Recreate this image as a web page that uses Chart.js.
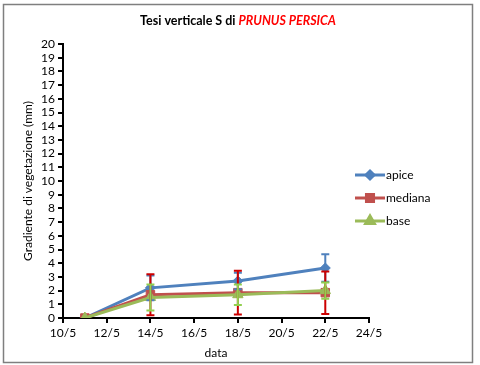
<!DOCTYPE html>
<html>
<head>
<meta charset="utf-8">
<script src="https://cdn.jsdelivr.net/npm/chart.js@4"></script>
<style>
  html, body { margin: 0; padding: 0; background: #fff; }
  #wrap { position: relative; width: 480px; height: 365px; }
</style>
</head>
<body>
<div id="wrap"><canvas id="chart" width="480" height="365"></canvas></div>
<script>
// dati
const days = [11, 14, 18, 22];
const xTicks = [10, 12, 14, 16, 18, 20, 22, 24];
const seriesNames = ["apice", "mediana", "base"];
const apice = [0, 2.2, 2.7, 3.65];
const apiceErr = [0, 0.9, 0.6, 1.0];
const mediana = [0, 1.7, 1.85, 1.85];
const medianaErr = [0, 1.5, 1.6, 1.55];
const base = [0, 1.5, 1.7, 2.0];
const baseErr = [0, 0.95, 0.75, 0.6];

const FONT = "Lato, 'Open Sans', sans-serif";
const colors = ["#4F81BD", "#C0504D", "#9BBB59"];
const errColors = ["#4F81BD", "#CC0000", "#92D050"];
const styles = ["rectRot", "rect", "triangle"];
const radii = [5, 6, 6];

function toPoints(vals) {
  return vals.map((v, i) => ({ x: days[i], y: v }));
}

const values = [apice, mediana, base];
const errors = [apiceErr, medianaErr, baseErr];

// barre di errore
const errorBars = {
  id: "errorBars",
  afterDatasetsDraw(chart) {
    const ctx = chart.ctx;
    const xs = chart.scales.x, ys = chart.scales.y;
    ctx.save();
    values.forEach((vals, s) => {
      ctx.strokeStyle = errColors[s];
      ctx.lineWidth = 2;
      vals.forEach((v, i) => {
        const e = errors[s][i];
        if (!e) return;
        const px = xs.getPixelForValue(days[i]);
        const top = ys.getPixelForValue(v + e);
        const bot = ys.getPixelForValue(Math.max(0, v - e));
        ctx.beginPath();
        ctx.moveTo(px, top); ctx.lineTo(px, bot);
        ctx.moveTo(px - 4, top); ctx.lineTo(px + 4, top);
        ctx.moveTo(px - 4, bot); ctx.lineTo(px + 4, bot);
        ctx.stroke();
      });
    });
    ctx.restore();
  }
};

// titolo, legenda e cornice
const extras = {
  id: "extras",
  afterDraw(chart) {
    const ctx = chart.ctx;
    ctx.save();
    ctx.strokeStyle = "#7f7f7f";
    ctx.lineWidth = 1.5;
    ctx.strokeRect(3.5, 4.5, 469, 358);

    ctx.textBaseline = "middle";
    const t1 = "Tesi verticale S di ";
    const t2 = "PRUNUS PERSICA";
    ctx.font = "bold 12.5px " + FONT;
    const w1 = ctx.measureText(t1).width;
    ctx.font = "bold italic 12.5px " + FONT;
    const w2 = ctx.measureText(t2).width;
    let x0 = 238 - (w1 + w2) / 2;
    ctx.font = "bold 12.5px " + FONT;
    ctx.fillStyle = "#000";
    ctx.textAlign = "left";
    ctx.fillText(t1, x0, 21);
    ctx.font = "bold italic 12.5px " + FONT;
    ctx.fillStyle = "#FF0000";
    ctx.fillText(t2, x0 + w1, 21);

    const ly = [175, 198, 221];
    const lr = [4, 5, 5];
    seriesNames.forEach((name, s) => {
      ctx.strokeStyle = colors[s];
      ctx.lineWidth = 3;
      ctx.beginPath();
      ctx.moveTo(355, ly[s]); ctx.lineTo(385, ly[s]);
      ctx.stroke();
      Chart.helpers.drawPoint(ctx, {
        pointStyle: styles[s], radius: lr[s], rotation: 0, borderWidth: 1
      }, 370, ly[s]);
      ctx.fillStyle = colors[s];
      ctx.fill();
      ctx.fillStyle = "#000";
      ctx.font = "12px " + FONT;
      ctx.textAlign = "left";
      ctx.fillText(name, 386, ly[s]);
    });
    ctx.restore();
  }
};

new Chart(document.getElementById("chart"), {
  type: "line",
  data: {
    datasets: seriesNames.map((name, s) => ({
      label: name,
      data: toPoints(values[s]),
      borderColor: colors[s],
      backgroundColor: colors[s],
      borderWidth: 3,
      pointStyle: styles[s],
      pointRadius: radii[s],
      pointBorderWidth: 1,
      tension: 0,
      order: 3 - s,
    })),
  },
  options: {
    responsive: false,
    animation: false,
    layout: { padding: { left: 0, top: 44, right: 111, bottom: 0 } },
    scales: {
      x: {
        type: "linear",
        min: 10,
        max: 24,
        afterBuildTicks: (scale) => { scale.ticks = xTicks.map(v => ({ value: v })); },
        afterFit: (scale) => { scale.height = 47; },
        ticks: {
          callback: (v) => v + "/5",
          color: "#000",
          font: { family: FONT, size: 12 },
          padding: 3,
          maxRotation: 0,
          autoSkip: false,
        },
        grid: { drawOnChartArea: false, drawTicks: true, tickLength: 5, color: "#000", lineWidth: 2 },
        border: { display: true, color: "#000", width: 2 },
        title: {
          display: true,
          text: "data",
          color: "#000",
          font: { family: FONT, size: 12 },
          padding: { top: 0, bottom: 5 },
        },
      },
      y: {
        min: 0,
        max: 20,
        afterFit: (scale) => { scale.width = 63; },
        ticks: {
          stepSize: 1,
          color: "#000",
          font: { family: FONT, size: 12 },
          padding: 3,
          autoSkip: false,
        },
        grid: { drawOnChartArea: false, drawTicks: true, tickLength: 5, color: "#000", lineWidth: 2 },
        border: { display: true, color: "#000", width: 2 },
        title: {
          display: true,
          text: "Gradiente di vegetazione (mm)",
          color: "#000",
          font: { family: FONT, size: 12 },
          padding: { top: 21, bottom: 0 },
        },
      },
    },
    plugins: {
      legend: { display: false },
      tooltip: { enabled: false },
    },
  },
  plugins: [errorBars, extras],
});
</script>
</body>
</html>
